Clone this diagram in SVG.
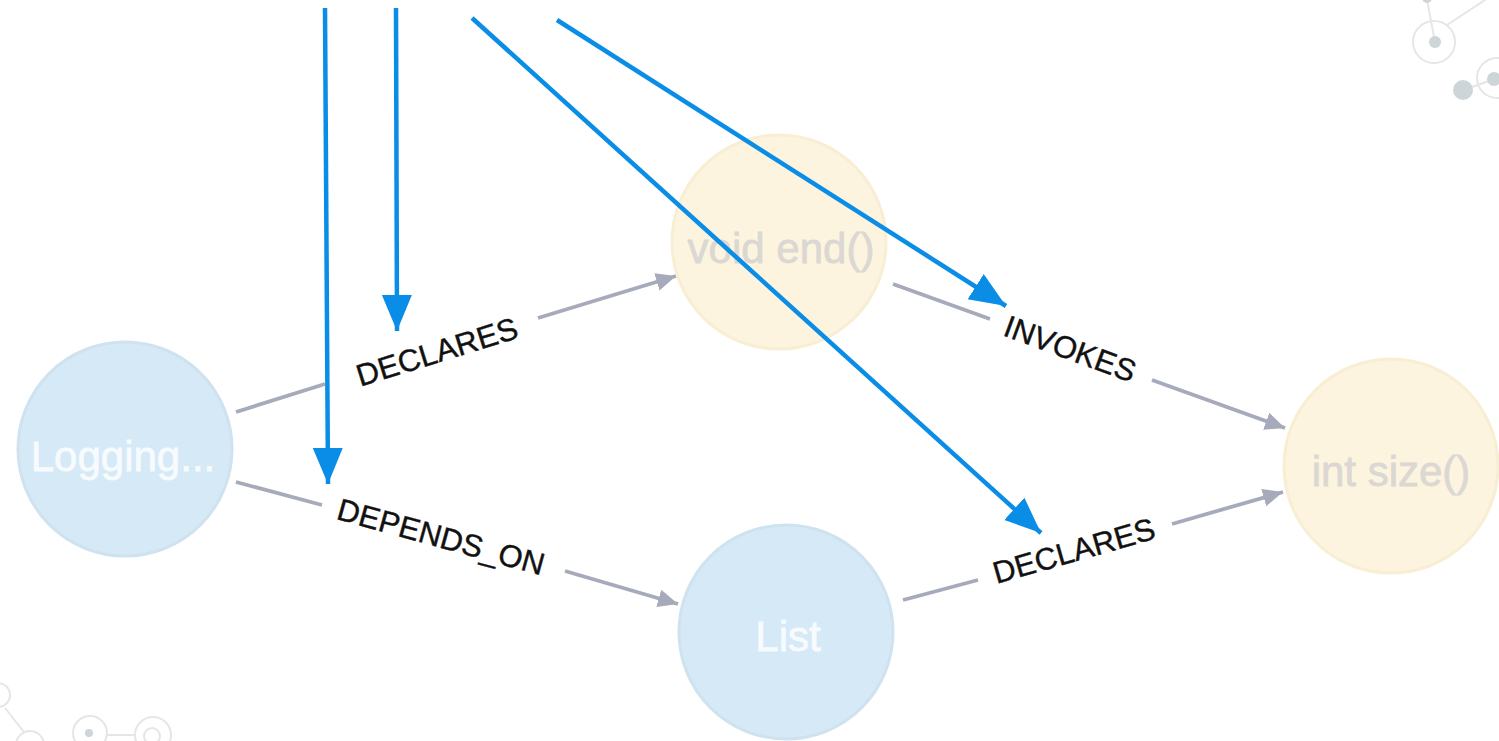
<svg xmlns="http://www.w3.org/2000/svg" width="1499" height="741" viewBox="0 0 1499 741">
  <style>
    .deco-ring { fill: none; stroke: #e4e6e7; stroke-width: 2; }
    .deco-line { stroke: #e4e6e7; stroke-width: 2; }
    .deco-dot { fill: #cdd5d9; }
    .node-blue circle { fill: #d5e9f7; stroke: #cfe2ef; stroke-width: 3; }
    .node-cream circle { fill: #fdf4df; stroke: #f8eed3; stroke-width: 3; }
    .node-label { font-family: "Liberation Sans", Arial, sans-serif; font-size: 42px; text-anchor: middle; dominant-baseline: central; stroke-width: 0.8; }
    .node-blue text { fill: #f7fbfe; stroke: #f7fbfe; }
    .node-cream text { fill: #dbd8d3; stroke: #dbd8d3; }
    .rel { stroke: #a6aaba; stroke-width: 3.8; fill: none; }
    .rel-label { font-family: "Liberation Sans", Arial, sans-serif; font-size: 31px; fill: #111; stroke: #111; stroke-width: 0.4; text-anchor: middle; dominant-baseline: central; }
    .pointer { stroke: #0a8de6; stroke-width: 4.5; fill: none; }
  </style>
  <defs>
    <marker id="relHead" markerUnits="userSpaceOnUse" markerWidth="22" markerHeight="20" refX="20" refY="9" orient="auto">
      <path d="M0,0 L20,9 L0,18 Z" fill="#a6aaba"/>
    </marker>
    <marker id="pointerHead" markerUnits="userSpaceOnUse" markerWidth="38" markerHeight="32" refX="36" refY="15" orient="auto">
      <path d="M0,0 L36,15 L0,30 Z" fill="#0a8de6"/>
    </marker>
  </defs>

  <rect width="1499" height="741" fill="#ffffff"/>

  <!-- faint background network ornaments -->
  <g id="ornament-top-right">
    <line class="deco-line" x1="1427" y1="0" x2="1435" y2="42"/>
    <line class="deco-line" x1="1447" y1="25" x2="1488" y2="-2"/>
    <circle class="deco-ring" cx="1434" cy="42" r="21"/>
    <circle class="deco-dot" cx="1435" cy="42" r="6"/>
    <circle class="deco-dot" cx="1427" cy="-2" r="5"/>
    <line class="deco-line" x1="1463" y1="90" x2="1492" y2="80"/>
    <circle class="deco-dot" cx="1463" cy="90" r="10"/>
    <circle class="deco-ring" cx="1497" cy="78" r="20"/>
    <circle class="deco-dot" cx="1494" cy="79" r="7"/>
  </g>
  <g id="ornament-bottom-left">
    <circle class="deco-ring" cx="-2" cy="695" r="12"/>
    <line class="deco-line" x1="5" y1="708" x2="24" y2="732"/>
    <circle class="deco-ring" cx="30" cy="745" r="14"/>
    <circle class="deco-ring" cx="90" cy="733" r="17"/>
    <circle class="deco-dot" cx="89" cy="733" r="4"/>
    <line class="deco-line" x1="107" y1="735" x2="135" y2="735"/>
    <circle class="deco-ring" cx="153" cy="735" r="18"/>
    <circle class="deco-ring" cx="152" cy="736" r="8"/>
  </g>

  <!-- relationships -->
  <g id="relationships">
    <line class="rel" x1="236" y1="412" x2="325" y2="384"/>
    <line class="rel" x1="538" y1="318" x2="676" y2="276" marker-end="url(#relHead)"/>
    <text class="rel-label" transform="translate(437,352) rotate(-17.2)">DECLARES</text>

    <line class="rel" x1="236" y1="482" x2="322" y2="505"/>
    <line class="rel" x1="565" y1="571" x2="678" y2="604" marker-end="url(#relHead)"/>
    <text class="rel-label" transform="translate(441,537) rotate(15.4)">DEPENDS_ON</text>

    <line class="rel" x1="893" y1="284" x2="990" y2="319"/>
    <line class="rel" x1="1152" y1="380" x2="1285" y2="428" marker-end="url(#relHead)"/>
    <text class="rel-label" transform="translate(1070,349) rotate(20.2)">INVOKES</text>

    <line class="rel" x1="903" y1="600" x2="978" y2="580"/>
    <line class="rel" x1="1172" y1="524" x2="1283" y2="492" marker-end="url(#relHead)"/>
    <text class="rel-label" transform="translate(1074,551) rotate(-15.9)">DECLARES</text>
  </g>

  <!-- nodes -->
  <g id="node-logging" class="node-blue">
    <circle cx="125" cy="449" r="107"/>
    <text class="node-label" x="123" y="456">Logging...</text>
  </g>
  <g id="node-void-end" class="node-cream">
    <circle cx="779" cy="242" r="107"/>
    <text class="node-label" x="781" y="248">void end()</text>
  </g>
  <g id="node-list" class="node-blue">
    <circle cx="786" cy="632" r="107"/>
    <text class="node-label" x="788" y="636">List</text>
  </g>
  <g id="node-int-size" class="node-cream">
    <circle cx="1391" cy="466" r="107"/>
    <text class="node-label" x="1391" y="471">int size()</text>
  </g>

  <!-- callout pointers -->
  <g id="pointers">
    <line class="pointer" x1="325" y1="8" x2="328" y2="484" marker-end="url(#pointerHead)"/>
    <line class="pointer" x1="396" y1="8" x2="397" y2="331" marker-end="url(#pointerHead)"/>
    <line class="pointer" x1="472" y1="18" x2="1041" y2="533" marker-end="url(#pointerHead)"/>
    <line class="pointer" x1="557" y1="20" x2="1006" y2="306" marker-end="url(#pointerHead)"/>
  </g>
</svg>
